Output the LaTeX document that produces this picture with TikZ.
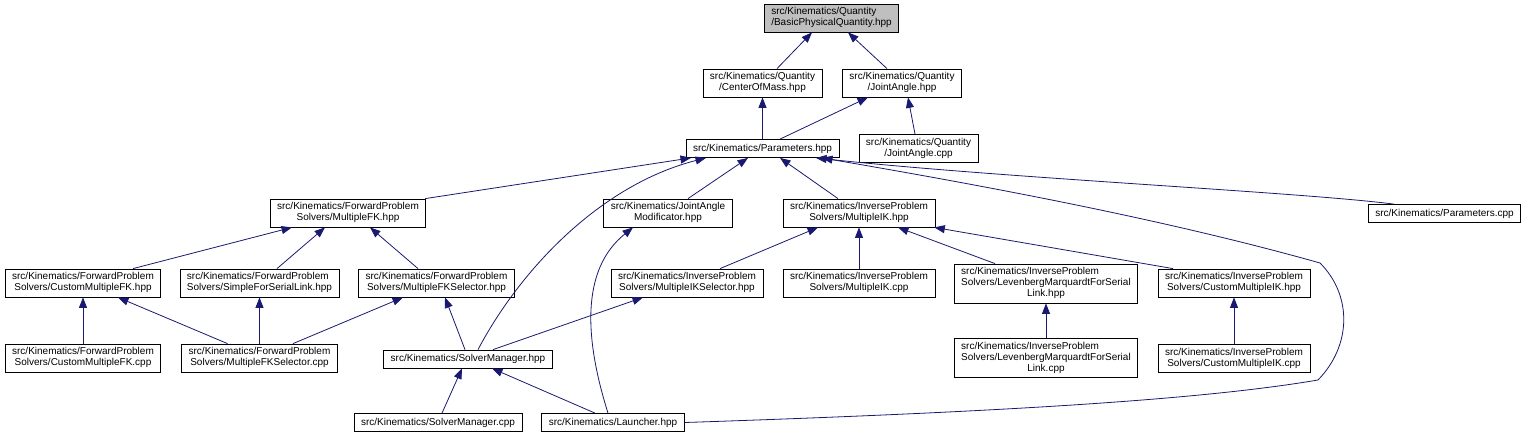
\documentclass[tikz,border=0pt]{standalone}
\usepackage{fontspec}
\setmainfont{Liberation Sans}
\usetikzlibrary{arrows.meta}
\definecolor{cEdge}{RGB}{25,25,112}
\definecolor{cRoot}{RGB}{191,191,191}
\newcommand{\twoline}[2]{\begin{tabular}{@{}l@{}}#1\\\multicolumn{1}{@{}c@{}}{#2}\end{tabular}}
\newcommand{\threeline}[3]{\begin{tabular}{@{}l@{}}#1\\#2\\\multicolumn{1}{@{}c@{}}{#3}\end{tabular}}

\begin{document}
\begin{tikzpicture}[
  x=1pt, y=-1pt,
  font=\fontsize{10}{11}\selectfont,
  file/.style = {draw=black, line width=0.8pt, fill=white,
                 inner xsep=7pt, inner ysep=3pt, minimum height=18pt},
  root/.style = {file, fill=cRoot},
  dep/.style  = {draw=cEdge, line width=0.8pt, -{Triangle[length=10.5pt, width=8pt]}}
]
\useasboundingbox (0,0) rectangle (1526,437);

% ------------------------------------------------------------------ i file --
\node[root] (bpq)    at (831.5,18)  {\twoline{src/Kinematics/Quantity}{/BasicPhysicalQuantity.hpp}};
\node[file] (com)    at (762.5,83)  {\twoline{src/Kinematics/Quantity}{/CenterOfMass.hpp}};
\node[file] (jahpp)  at (902,83)    {\twoline{src/Kinematics/Quantity}{/JointAngle.hpp}};
\node[file] (params) at (762.5,148.5) {src/Kinematics/Parameters.hpp};
\node[file] (jacpp)  at (918.5,148.5) {\twoline{src/Kinematics/Quantity}{/JointAngle.cpp}};

\node[file] (mfk)    at (348,213)   {\twoline{src/Kinematics/ForwardProblem}{Solvers/MultipleFK.hpp}};
\node[file] (jam)    at (668,213)   {\twoline{src/Kinematics/JointAngle}{Modificator.hpp}};
\node[file] (mik)    at (859,213)   {\twoline{src/Kinematics/InverseProblem}{Solvers/MultipleIK.hpp}};
\node[file] (pcpp)   at (1444.5,213.5) {src/Kinematics/Parameters.cpp};

\node[file] (cmfk)   at (83,283)    {\twoline{src/Kinematics/ForwardProblem}{Solvers/CustomMultipleFK.hpp}};
\node[file] (sfsl)   at (259.5,283) {\twoline{src/Kinematics/ForwardProblem}{Solvers/SimpleForSerialLink.hpp}};
\node[file] (mfks)   at (436.5,283) {\twoline{src/Kinematics/ForwardProblem}{Solvers/MultipleFKSelector.hpp}};
\node[file] (miks)   at (687,283)   {\twoline{src/Kinematics/InverseProblem}{Solvers/MultipleIKSelector.hpp}};
\node[file] (mikcpp) at (859,283)   {\twoline{src/Kinematics/InverseProblem}{Solvers/MultipleIK.cpp}};
\node[file] (lmhpp)  at (1046,283.5) {\threeline{src/Kinematics/InverseProblem}{Solvers/LevenbergMarquardtForSerial}{Link.hpp}};
\node[file] (cmik)   at (1234,283)  {\twoline{src/Kinematics/InverseProblem}{Solvers/CustomMultipleIK.hpp}};

\node[file] (cmfkcpp) at (83,358)   {\twoline{src/Kinematics/ForwardProblem}{Solvers/CustomMultipleFK.cpp}};
\node[file] (mfkscpp) at (259.5,358) {\twoline{src/Kinematics/ForwardProblem}{Solvers/MultipleFKSelector.cpp}};
\node[file] (smhpp)  at (468,359)   {src/Kinematics/SolverManager.hpp};
\node[file] (lmcpp)  at (1046,358)  {\threeline{src/Kinematics/InverseProblem}{Solvers/LevenbergMarquardtForSerial}{Link.cpp}};
\node[file] (cmikcpp) at (1234,358.5) {\twoline{src/Kinematics/InverseProblem}{Solvers/CustomMultipleIK.cpp}};

\node[file] (smcpp)  at (438,422.5) {src/Kinematics/SolverManager.cpp};
\node[file] (launch) at (613,422.5) {src/Kinematics/Launcher.hpp};

% ------------------------------------------------------------- le inclusioni --
\draw[dep] ([xshift=14.5pt]com.north)   -- ([xshift=-19.5pt]bpq.south);
\draw[dep] ([xshift=-15pt]jahpp.north)  -- ([xshift=16.5pt]bpq.south);
\draw[dep] (params.north)               -- (com.south);
\draw[dep] ([xshift=17.5pt]params.north) -- ([xshift=-34pt]jahpp.south);
\draw[dep] ([xshift=-3.5pt]jacpp.north) -- ([xshift=6pt]jahpp.south);

\draw[dep] ([xshift=-1pt]mfk.north east) -- ([xshift=-71.5pt]params.south);
\draw[dep] ([xshift=20pt]jam.north)     -- ([xshift=-14.5pt]params.south);
\draw[dep] ([xshift=-21pt]mik.north)    -- ([xshift=17.5pt]params.south);
\draw[dep] ([xshift=-50.5pt]pcpp.north) .. controls (1300,192) and (1000,178) .. ([xshift=53.5pt]params.south);
\draw[dep] ([xshift=10pt]smhpp.north)   .. controls (520,270) and (600,185) .. ([xshift=-56.5pt]params.south);
% da Launcher.hpp il giro largo a destra fino a Parameters.hpp
\draw[dep] (launch.east) .. controls (1000,412) and (1200,400) .. (1318,380)
                         .. controls (1352,345) and (1352,295) .. (1320,263)
                         .. controls (1150,215) and (950,180) .. ([xshift=59.5pt]params.south);

\draw[dep] ([xshift=50pt]cmfk.north)    -- ([xshift=-56pt]mfk.south);
\draw[dep] ([xshift=17.5pt]sfsl.north)  -- ([xshift=-23pt]mfk.south);
\draw[dep] ([xshift=-18.5pt]mfks.north) -- ([xshift=22pt]mfk.south);

\draw[dep] (cmfkcpp.north)              -- (cmfk.south);
\draw[dep] ([xshift=-32pt]mfkscpp.north) -- ([xshift=35pt]cmfk.south);
\draw[dep] (mfkscpp.north)              -- (sfsl.south);
\draw[dep] ([xshift=33.5pt]mfkscpp.north) -- ([xshift=-33.5pt]mfks.south);

\draw[dep] ([xshift=-3pt]smhpp.north)   -- ([xshift=8.5pt]mfks.south);
\draw[dep] ([xshift=25pt]smhpp.north)   -- ([xshift=-44pt]miks.south);

\draw[dep] ([xshift=33pt]miks.north)    -- ([xshift=-41pt]mik.south);
\draw[dep] (mikcpp.north)               -- (mik.south);
\draw[dep] ([xshift=-51pt]lmhpp.north)  -- ([xshift=39pt]mik.south);
\draw[dep] ([xshift=-61pt]cmik.north)   -- ([xshift=-1pt]mik.south east);
\draw[dep] (lmcpp.north)                -- (lmhpp.south);
\draw[dep] (cmikcpp.north)              -- (cmik.south);

\draw[dep] ([xshift=4pt]smcpp.north)    -- ([xshift=-6pt]smhpp.south);
\draw[dep] ([xshift=-18pt]launch.north) -- ([xshift=24pt]smhpp.south);
\draw[dep] ([xshift=-5pt]launch.north)  .. controls (585,340) and (580,270) .. ([xshift=-35pt]jam.south);

\end{tikzpicture}
\end{document}
